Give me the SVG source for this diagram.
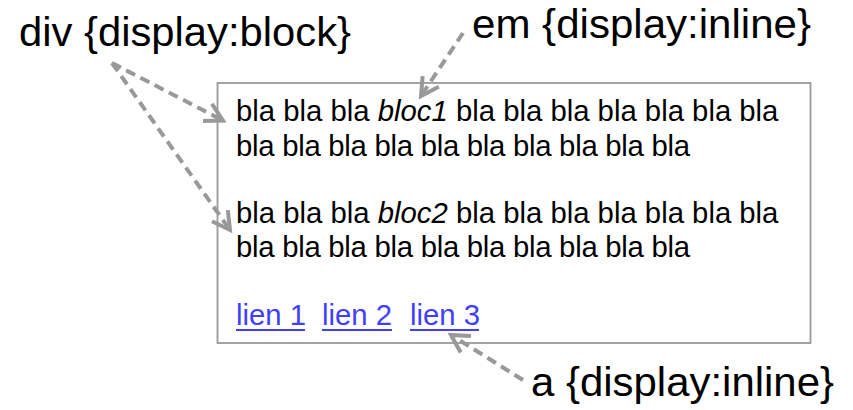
<svg xmlns="http://www.w3.org/2000/svg" width="853" height="410" viewBox="0 0 853 410">
<style>
.title{font-family:"Liberation Sans",Arial,sans-serif;font-size:41px;fill:#000}
.body{font-family:"Liberation Sans",Arial,sans-serif;font-size:29.3px;fill:#000}
.em{font-style:italic}
.link{font-family:"Liberation Sans",Arial,sans-serif;font-size:29.3px;fill:#3f3fff}
.ul{stroke:#3f3fff;stroke-width:2}
.conn{fill:none;stroke:#999;stroke-width:4;stroke-dasharray:10 6}
</style>
<defs>
<marker id="arr" markerUnits="userSpaceOnUse" markerWidth="40" markerHeight="40" viewBox="-25 -20 30 40" refX="0" refY="0" orient="auto">
<path d="M -17.5 -9.7 L 0 0 L -17.5 9.7" fill="none" stroke="#999" stroke-width="4" stroke-linejoin="miter"/>
</marker>
</defs>
<rect width="853" height="410" fill="#fff"/>
<g id="box">
<rect x="217.5" y="83" width="593" height="260" fill="#fff" stroke="#999" stroke-width="1.8"/>
<text class="body" x="236" y="121">bla bla bla <tspan class="em">bloc1</tspan> bla bla bla bla bla bla bla</text>
<text class="body" x="236" y="156" textLength="454" lengthAdjust="spacing">bla bla bla bla bla bla bla bla bla bla</text>
<text class="body" x="236" y="223">bla bla bla <tspan class="em">bloc2</tspan> bla bla bla bla bla bla bla</text>
<text class="body" x="236" y="257" textLength="454" lengthAdjust="spacing">bla bla bla bla bla bla bla bla bla bla</text>
</g>
<g id="links">
<text class="link" x="236" y="325">lien 1</text>
<text class="link" x="322" y="325">lien 2</text>
<text class="link" x="410" y="325">lien 3</text>
<line class="ul" x1="236" y1="330" x2="305" y2="330"/>
<line class="ul" x1="322" y1="330" x2="392" y2="330"/>
<line class="ul" x1="410" y1="330" x2="479" y2="330"/>
</g>
<g id="div-label"><text class="title" x="19" y="46" textLength="332" lengthAdjust="spacingAndGlyphs">div {display:block}</text></g>
<g id="em-label"><text class="title" x="472" y="38" textLength="339" lengthAdjust="spacingAndGlyphs">em {display:inline}</text></g>
<g id="a-label"><text class="title" x="531" y="396" textLength="303" lengthAdjust="spacingAndGlyphs">a {display:inline}</text></g>
<g id="connectors">
<path class="conn" d="M 112 63 L 223 120.5" marker-end="url(#arr)"/>
<path class="conn" d="M 112 63 L 230 230" marker-end="url(#arr)"/>
<path class="conn" d="M 463 33 L 421 96" marker-end="url(#arr)"/>
<path class="conn" d="M 523 380 L 451 335" marker-end="url(#arr)"/>
</g>
</svg>
